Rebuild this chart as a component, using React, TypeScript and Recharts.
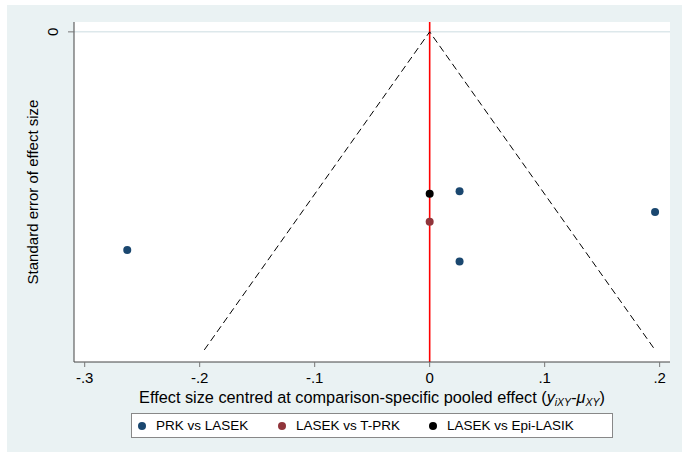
import { ScatterChart, Scatter, XAxis, YAxis, CartesianGrid, ReferenceLine } from 'recharts';

// funnel: 95% pseudo confidence limits around the pooled effect
const funnelX = [-0.196, 0, 0.196];
const funnelSE = [0.1, 0, 0.1];

const prkLasekX = [-0.263, 0.026, 0.026, 0.196];
const prkLasekSE = [0.0686, 0.0501, 0.0722, 0.0566];
const lasekTprkX = [0];
const lasekTprkSE = [0.0597];
const lasekEpiX = [0];
const lasekEpiSE = [0.0509];

const xTicks = [-0.3, -0.2, -0.1, 0, 0.1, 0.2];
const yTicks = [0];

const legendItems = [
  { label: 'PRK vs LASEK', color: '#1a476f' },
  { label: 'LASEK vs T-PRK', color: '#90353b' },
  { label: 'LASEK vs Epi-LASIK', color: '#000000' },
];

const FONT = '"Liberation Sans", Arial, sans-serif';
const BG = '#eaf2f3';

const toPoints = (xs: number[], ys: number[]) => xs.map((x, i) => ({ x, se: ys[i] }));

const fmtTick = (v: number) => {
  if (v === 0) return '0';
  return String(v).replace('0.', '.');
};

const dot = (color: string) => (props: any) => (
  <circle cx={props.cx} cy={props.cy} r={4} fill={color} />
);

const YTick = (props: any) => {
  const { x, y, payload } = props;
  const cx = x - 13;
  return (
    <text
      x={cx}
      y={y}
      textAnchor="middle"
      dominantBaseline="central"
      fontSize={15}
      fontFamily={FONT}
      fill="#000"
      transform={`rotate(-90, ${cx}, ${y})`}
    >
      {fmtTick(payload.value)}
    </text>
  );
};

const XTick = (props: any) => {
  const { x, y, payload } = props;
  return (
    <text x={x} y={y + 14} textAnchor="middle" fontSize={15} fontFamily={FONT} fill="#000">
      {fmtTick(payload.value)}
    </text>
  );
};

const XTitle = (props: any) => {
  const vb = props.viewBox;
  const cx = vb.x + vb.width / 2;
  return (
    <text x={cx} y={403} textAnchor="middle" fontSize={16.3} fontFamily={FONT} fill="#000">
      Effect size centred at comparison-specific pooled effect (
      <tspan fontStyle="italic">y</tspan>
      <tspan fontStyle="italic" fontSize={10.5} dy={3}>iXY</tspan>
      <tspan dy={-3}>-</tspan>
      <tspan fontStyle="italic">μ</tspan>
      <tspan fontStyle="italic" fontSize={10.5} dy={3}>XY</tspan>
      <tspan dy={-3}>)</tspan>
    </text>
  );
};

export default function App() {
  return (
    <div style={{ position: 'absolute', left: 0, top: 0, width: 682, height: 456, background: '#fff', fontFamily: FONT }}>
      <div style={{ position: 'absolute', left: 7, top: 5, width: 675, height: 447, background: BG }} />
      <div style={{ position: 'absolute', left: 0, top: 0 }}>
        <ScatterChart width={682} height={456} margin={{ top: 22, right: 12, left: 0, bottom: 0 }}>
          <CartesianGrid horizontal={false} vertical={false} fill="#fff" fillOpacity={1} />
          <ReferenceLine y={0} stroke="#dde8eb" strokeWidth={1.5} />
          <XAxis
            type="number"
            dataKey="x"
            domain={[-0.3093, 0.209]}
            allowDataOverflow
            ticks={xTicks}
            height={94}
            axisLine={{ stroke: '#444' }}
            tickLine={{ stroke: '#777' }}
            tickSize={5}
            tickMargin={2}
            tick={<XTick />}
            label={{ content: (p: any) => <XTitle {...p} /> }}
          />
          <YAxis
            type="number"
            dataKey="se"
            reversed
            domain={[-0.0031, 0.1038]}
            allowDataOverflow
            ticks={yTicks}
            width={74}
            axisLine={{ stroke: '#444' }}
            tickLine={{ stroke: '#777' }}
            tickSize={6}
            tick={<YTick />}
            label={{
              value: 'Standard error of effect size',
              angle: -90,
              position: 'insideLeft',
              offset: 33,
              style: { fontSize: 15, fontFamily: FONT, fill: '#000', textAnchor: 'middle' },
            }}
          />
          <ReferenceLine x={0} stroke="#ff0000" strokeWidth={1.6} />
          <Scatter
            data={toPoints(funnelX, funnelSE)}
            line={{ stroke: '#000', strokeWidth: 1, strokeDasharray: '7 4' }}
            shape={() => <g />}
            isAnimationActive={false}
          />
          <Scatter data={toPoints(prkLasekX, prkLasekSE)} shape={dot('#1a476f')} isAnimationActive={false} />
          <Scatter data={toPoints(lasekTprkX, lasekTprkSE)} shape={dot('#90353b')} isAnimationActive={false} />
          <Scatter data={toPoints(lasekEpiX, lasekEpiSE)} shape={dot('#000000')} isAnimationActive={false} />
        </ScatterChart>
      </div>
      <div
        style={{
          position: 'absolute',
          left: 131,
          top: 413,
          width: 480,
          height: 23,
          background: '#fff',
          border: '1px solid #888',
          fontSize: 13.5,
          color: '#000',
        }}
      >
        {legendItems.map((it, i) => (
          <div key={it.label} style={{ position: 'absolute', left: [6, 146, 297][i], top: 4, display: 'flex', alignItems: 'center', whiteSpace: 'nowrap' }}>
            <span style={{ display: 'inline-block', width: 8, height: 8, borderRadius: 4, background: it.color, marginRight: 10 }} />
            <span>{it.label}</span>
          </div>
        ))}
      </div>
    </div>
  );
}
